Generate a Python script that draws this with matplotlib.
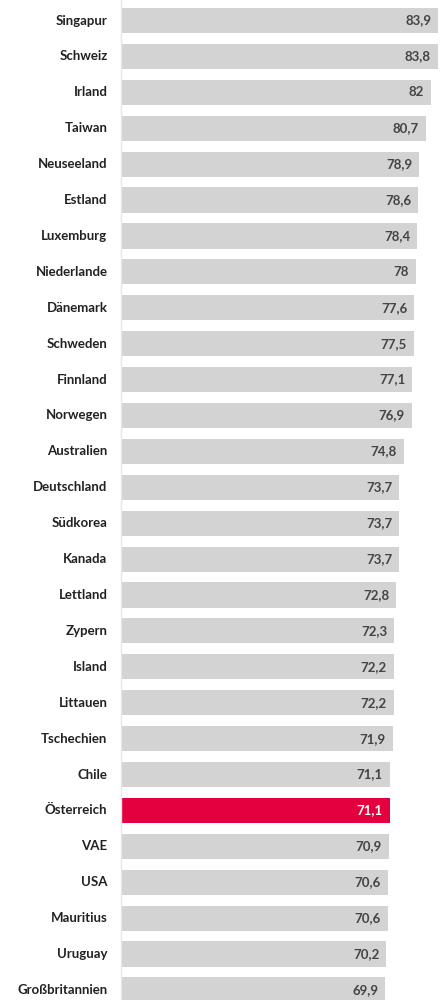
import matplotlib.pyplot as plt

countries = ["Singapur", "Schweiz", "Irland", "Taiwan", "Neuseeland", "Estland",
             "Luxemburg", "Niederlande", "Dänemark", "Schweden", "Finnland",
             "Norwegen", "Australien", "Deutschland", "Südkorea", "Kanada",
             "Lettland", "Zypern", "Island", "Littauen", "Tschechien", "Chile",
             "Österreich", "VAE", "USA", "Mauritius", "Uruguay", "Großbritannien"]
values = [83.9, 83.8, 82, 80.7, 78.9, 78.6, 78.4, 78, 77.6, 77.5, 77.1, 76.9,
          74.8, 73.7, 73.7, 73.7, 72.8, 72.3, 72.2, 72.2, 71.9, 71.1, 71.1,
          70.9, 70.6, 70.6, 70.2, 69.9]
highlight = "Österreich"

plt.rcParams["font.family"] = ["Lato", "DejaVu Sans"]

fig = plt.figure(figsize=(4.41, 10), dpi=100)
ax = fig.add_axes([121 / 441, 0, 320 / 441, 1])

pos = list(range(len(countries)))
colors = ["#e4003f" if c == highlight else "#d3d3d3" for c in countries]
ax.barh(pos, values, height=0.7, color=colors)

for y, v, c in zip(pos, values, countries):
    txt = f"{v:g}".replace(".", ",")
    ax.text(v - 1.8, y, txt, ha="right", va="center", fontsize=9.5, fontweight="bold",
            color="white" if c == highlight else "#444444")
    ax.text(-3.6, y, c, ha="right", va="center", fontsize=9.5, fontweight="bold",
            color="#222222")

ax.set_xlim(0, 84.7)
ax.set_ylim(27.28, -0.571)
ax.set_xticks([])
ax.set_yticks([])
for s in ["top", "right", "bottom"]:
    ax.spines[s].set_visible(False)
ax.spines["left"].set_color("#e6e6e6")
ax.spines["left"].set_linewidth(1)

fig.savefig("out.png", dpi=100)
